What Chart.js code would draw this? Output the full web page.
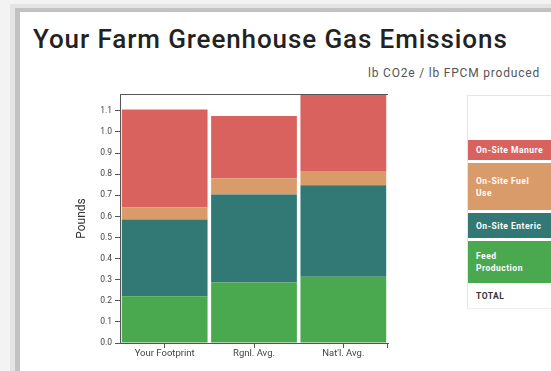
<!DOCTYPE html>
<html>
<head>
<meta charset="utf-8">
<script src="https://cdn.jsdelivr.net/npm/chart.js@4.4.1/dist/chart.umd.min.js"></script>
<style>
  html, body { margin: 0; padding: 0; }
  body { width: 551px; height: 371px; overflow: hidden; background: #f3f3f3; position: relative; font-family: Roboto, "Open Sans", sans-serif; }
  .card {
    position: absolute; left: 20px; top: 12px; width: 560px; height: 400px; background: #fff;
    box-shadow: -5px -4px 0 #c2c2c2, -10px -8px 0 #e4e4e4;
  }
  h1 {
    position: absolute; left: 33px; top: 24px; margin: 0;
    font: 500 26px Roboto, sans-serif; color: #222; white-space: nowrap; letter-spacing: 0.9px;
  }
  .unit {
    position: absolute; right: 11px; top: 66px; font: 12px Roboto, sans-serif; color: #555; white-space: nowrap; letter-spacing: 0.8px;
  }
  #wrap { position: absolute; left: 50px; top: 85px; width: 345px; height: 282px; }
  table.legend {
    position: absolute; left: 467px; top: 95px; width: 120px; border-collapse: collapse;
    border-top: 1px solid #e6e6e6; border-left: 1px solid #e6e6e6;
    font: 700 8.5px Roboto, sans-serif; color: #fff; letter-spacing: 0.5px;
  }
  table.legend td { padding: 0 8px; vertical-align: middle; line-height: 12px; white-space: nowrap; }
  table.legend tr.gap td { height: 3px; padding: 0; background: #fff; }
  table.legend tr.total td { color: #333; height: 25px; border-bottom: 1px solid #eee; }
</style>
</head>
<body>
<div class="card"></div>
<h1>Your Farm Greenhouse Gas Emissions</h1>
<div class="unit">lb CO2e / lb FPCM produced</div>
<div id="wrap"><canvas id="c" width="345" height="282"></canvas></div>
<table class="legend" id="legend"></table>
<script>
// Emission sources per benchmark, lb CO2e per lb FPCM
const categories = ["Your Footprint", "Rgnl. Avg.", "Nat'l. Avg."];
const feedProduction = [0.222, 0.287, 0.314];
const onSiteEnteric  = [0.363, 0.417, 0.434];
const onSiteFuelUse  = [0.057, 0.075, 0.067];
const onSiteManure   = [0.465, 0.297, 0.364];
const yTicks = [0, 0.1, 0.2, 0.3, 0.4, 0.5, 0.6, 0.7, 0.8, 0.9, 1.0, 1.1];
const yMax = 1.18;

const colors = {
  manure: '#d9625f',
  fuel: '#da9b6a',
  enteric: '#327875',
  feed: '#4aa84f'
};

// Legend table rows (top to bottom)
const legendRows = [
  { label: 'On-Site Manure', color: colors.manure, h: 20 },
  { label: 'On-Site Fuel<br>Use', color: colors.fuel, h: 47 },
  { label: 'On-Site Enteric', color: colors.enteric, h: 25 },
  { label: 'Feed<br>Production', color: colors.feed, h: 42 }
];
const tbl = document.getElementById('legend');
let html = '<tr><td style="height:41px"></td></tr>';
legendRows.forEach(r => {
  html += '<tr class="gap"><td></td></tr>';
  html += `<tr><td style="background:${r.color};height:${r.h}px">${r.label}</td></tr>`;
});
html += '<tr class="total"><td>TOTAL</td></tr>';
tbl.innerHTML = html;

// Frame line along the top of the plot and the closing tick on the x axis
const frameLines = {
  id: 'frameLines',
  afterDraw(chart) {
    const { ctx, chartArea: a } = chart;
    ctx.save();
    ctx.strokeStyle = '#555';
    ctx.lineWidth = 1;
    ctx.beginPath();
    ctx.moveTo(a.left, a.top + 0.5);
    ctx.lineTo(a.right, a.top + 0.5);
    ctx.moveTo(a.right - 0.5, a.bottom);
    ctx.lineTo(a.right - 0.5, a.bottom + 5);
    ctx.stroke();
    ctx.restore();
  }
};

const tickFont = { family: 'Roboto, sans-serif', size: 8.5 };

new Chart(document.getElementById('c'), {
  type: 'bar',
  data: {
    labels: categories,
    datasets: [
      { label: 'Feed Production', data: feedProduction, backgroundColor: colors.feed },
      { label: 'On-Site Enteric', data: onSiteEnteric, backgroundColor: colors.enteric },
      { label: 'On-Site Fuel Use', data: onSiteFuelUse, backgroundColor: colors.fuel },
      { label: 'On-Site Manure', data: onSiteManure, backgroundColor: colors.manure }
    ]
  },
  options: {
    responsive: false,
    animation: false,
    layout: { padding: { top: 9, right: 7, left: 0, bottom: 0 } },
    datasets: { bar: { categoryPercentage: 1, barPercentage: 0.96, borderWidth: 0 } },
    plugins: { legend: { display: false }, tooltip: { enabled: false } },
    scales: {
      x: {
        stacked: true,
        grid: { display: true, drawOnChartArea: false, offset: false, tickLength: 5, color: '#555' },
        border: { display: true, color: '#555' },
        ticks: { font: { family: 'Roboto, sans-serif', size: 9.5 }, color: '#444', padding: 0, maxRotation: 0 },
        afterFit(s) { s.height = 24; }
      },
      y: {
        stacked: true,
        min: 0,
        max: yMax,
        afterBuildTicks(s) { s.ticks = yTicks.map(v => ({ value: v })); },
        grid: { display: true, drawOnChartArea: false, tickLength: 5, color: '#555' },
        border: { display: true, color: '#555' },
        ticks: { font: tickFont, color: '#444', padding: 3, callback: v => Number(v).toFixed(1) },
        title: { display: true, text: 'Pounds', font: { family: 'Roboto, sans-serif', size: 12 }, color: '#333', padding: { top: 25, bottom: 0 } },
        afterFit(s) { s.width = 70; }
      }
    }
  },
  plugins: [frameLines]
});
</script>
</body>
</html>
